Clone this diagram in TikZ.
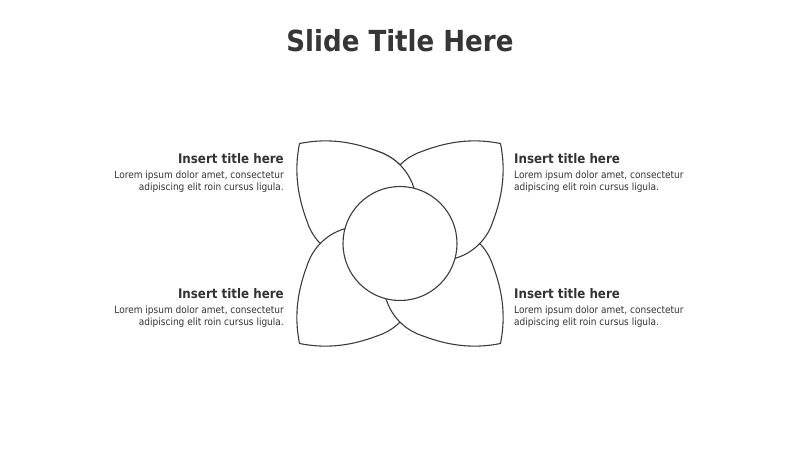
\documentclass[tikz,border=0pt]{standalone}
\usepackage{fontspec}
\setmainfont{DejaVu Sans Condensed}
\definecolor{linegray}{HTML}{3C3C3C}
\definecolor{titlegray}{HTML}{363636}
\definecolor{textgray}{HTML}{333333}
\begin{document}
\begin{tikzpicture}[x=1pt,y=-1pt,
  petal/.style={draw=linegray, line width=1.1pt, fill=white, line join=round},
  hub/.style={draw=linegray, line width=1.1pt, fill=white},
  slidetitle/.style={inner sep=0pt, text=titlegray, font=\fontsize{29}{34}\selectfont\bfseries},
  blocktitle/.style={inner sep=0pt, text=textgray, font=\fontsize{13.2}{15}\selectfont\bfseries},
  blocktext/.style={inner sep=0pt, text=textgray, font=\fontsize{10}{12}\selectfont}]
\useasboundingbox[fill=white] (0,0) rectangle (800,450);
\tikzset{petalpic/.pic={
  \draw[petal] (0,0) .. controls (30,-6) and (55,-1) .. (78,7.7)
    arc[start angle=-72.3, end angle=162.3, radius=56]
    .. controls (-1,55) and (-6,30) .. (0,0) -- cycle;}}
% petals (cyclic overlap: TL over TR over BR over BL over TL)
\pic[shift={(299.5,143.5)}] {petalpic};
\pic[shift={(299.5,343.5)}, yscale=-1] {petalpic};
\pic[shift={(500.5,343.5)}, xscale=-1, yscale=-1] {petalpic};
\pic[shift={(500.5,143.5)}, xscale=-1] {petalpic};
\begin{scope}
  \clip (372,100) rectangle (470,250);
  \pic[shift={(299.5,143.5)}] {petalpic};
\end{scope}
% centre circle
\node[hub, circle, minimum size=114pt, inner sep=0pt] (hub) at (400,243.5) {};
% title
\node[slidetitle, anchor=base] (title) at (400,51.7) {Slide Title Here};
% top right
\node[blocktitle, anchor=base west] (trt) at (514,163) {Insert title here};
\node[blocktext, anchor=base west] (tr1) at (514,178.3) {Lorem ipsum dolor amet, consectetur};
\node[blocktext, anchor=base west] (tr2) at (514,190) {adipiscing elit roin cursus ligula.};
% bottom right
\node[blocktitle, anchor=base west] (brt) at (514,298) {Insert title here};
\node[blocktext, anchor=base west] (br1) at (514,313.3) {Lorem ipsum dolor amet, consectetur};
\node[blocktext, anchor=base west] (br2) at (514,325) {adipiscing elit roin cursus ligula.};
% top left
\node[blocktitle, anchor=base east] (tlt) at (284,163) {Insert title here};
\node[blocktext, anchor=base east] (tl1) at (284,178.3) {Lorem ipsum dolor amet, consectetur};
\node[blocktext, anchor=base east] (tl2) at (284,190) {adipiscing elit roin cursus ligula.};
% bottom left
\node[blocktitle, anchor=base east] (blt) at (284,298) {Insert title here};
\node[blocktext, anchor=base east] (bl1) at (284,313.3) {Lorem ipsum dolor amet, consectetur};
\node[blocktext, anchor=base east] (bl2) at (284,325) {adipiscing elit roin cursus ligula.};
\end{tikzpicture}
\end{document}
